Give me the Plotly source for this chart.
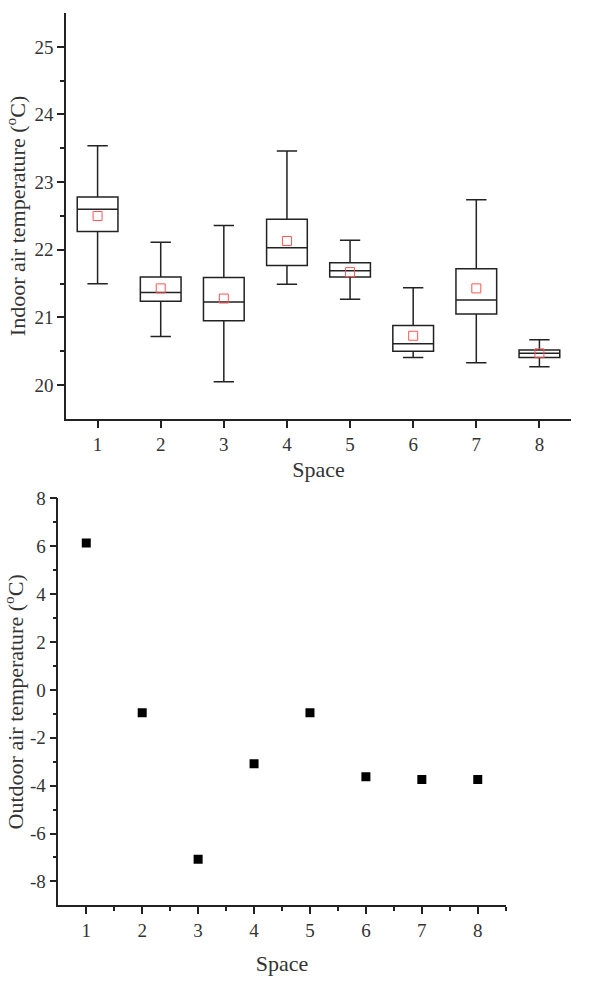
import plotly.graph_objects as go

spaces = [1, 2, 3, 4, 5, 6, 7, 8]
upper = [23.54, 22.11, 22.36, 23.46, 22.14, 21.44, 22.74, 20.67]
q3 = [22.78, 21.60, 21.59, 22.45, 21.81, 20.88, 21.72, 20.52]
median = [22.60, 21.37, 21.23, 22.03, 21.69, 20.61, 21.26, 20.47]
q1 = [22.27, 21.24, 20.95, 21.77, 21.60, 20.50, 21.05, 20.41]
lower = [21.50, 20.72, 20.05, 21.49, 21.27, 20.41, 20.33, 20.27]
mean = [22.50, 21.43, 21.28, 22.13, 21.67, 20.73, 21.43, 20.47]
outdoor = [6.13, -0.96, -7.08, -3.09, -0.96, -3.63, -3.74, -3.74]
outdoor_ticks = [-8, -6, -4, -2, 0, 2, 4, 6, 8]
outdoor_ticktext = [str(v) for v in outdoor_ticks]

FONT = "Liberation Serif, Times New Roman, serif"
INK = "#222222"

fig = go.Figure()
fig.add_trace(go.Box(
    x=spaces, q1=q1, median=median, q3=q3, lowerfence=lower, upperfence=upper,
    width=0.645, whiskerwidth=0.5, fillcolor="rgba(0,0,0,0)",
    line=dict(color=INK, width=1.5), boxpoints=False,
    xaxis="x", yaxis="y", showlegend=False,
))
fig.add_trace(go.Scatter(
    x=spaces, y=mean, mode="markers",
    marker=dict(symbol="square-open", size=9, color="#ff5555", line=dict(width=1)),
    xaxis="x", yaxis="y", showlegend=False,
))
fig.add_trace(go.Scatter(
    x=spaces, y=outdoor, mode="markers",
    marker=dict(symbol="square", size=9, color="#000000"),
    xaxis="x2", yaxis="y2", showlegend=False,
))

axis_common = dict(
    showgrid=False, zeroline=False, showline=True, linecolor=INK, linewidth=1.5,
    ticks="outside", ticklen=7, tickwidth=1.5, tickcolor=INK, automargin=False,
    tickfont=dict(family=FONT, size=19, color="#333333"),
    title_font=dict(family=FONT, size=22, color="#333333"),
)

fig.update_layout(
    width=589, height=986,
    margin=dict(l=0, r=0, t=0, b=0, autoexpand=False),
    paper_bgcolor="white", plot_bgcolor="white",
    font=dict(family=FONT),
    xaxis=dict(**axis_common, domain=[0.1121, 0.9694], range=[0.5, 8.5],
               tick0=1, dtick=1, anchor="y",
               title=dict(text="Space", standoff=8)),
    yaxis=dict(**axis_common, domain=[0.5751, 0.9868], range=[19.5, 25.5],
               tick0=20, dtick=1, anchor="x",
               minor=dict(tickvals=[20.5, 21.5, 22.5, 23.5, 24.5], ticks="outside",
                          ticklen=4, tickwidth=1.5, tickcolor=INK),
               title=dict(text="Indoor air temperature (<sup>o</sup>C)", standoff=3)),
    xaxis2=dict(**axis_common, domain=[0.0990, 0.8586], range=[0.5, 8.5],
                tick0=1, dtick=1, anchor="y2",
                minor=dict(tickvals=[1.5, 2.5, 3.5, 4.5, 5.5, 6.5, 7.5, 8.5], ticks="outside",
                           ticklen=4, tickwidth=1.5, tickcolor=INK),
                title=dict(text="Space", standoff=16)),
    yaxis2=dict(**axis_common, domain=[0.0818, 0.4946], range=[-9, 8],
                tickmode="array", tickvals=outdoor_ticks, ticktext=outdoor_ticktext,
                anchor="x2",
                minor=dict(tickvals=[-7, -5, -3, -1, 1, 3, 5, 7], ticks="outside",
                           ticklen=4, tickwidth=1.5, tickcolor=INK),
                title=dict(text="Outdoor air temperature (<sup>o</sup>C)", standoff=3)),
)

fig.write_html(
    "out.html",
    config={"displayModeBar": False},
    post_script="document.body.style.margin='0';document.body.style.overflow='hidden';",
)
